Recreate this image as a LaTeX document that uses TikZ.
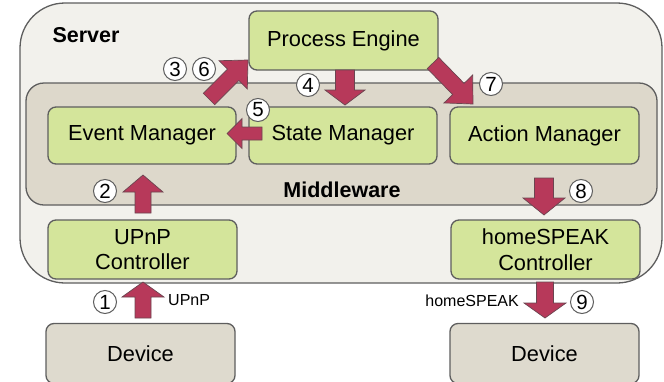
\documentclass[tikz,border=0pt]{standalone}
\usepackage{fontspec}
\setmainfont{Liberation Sans}
\usetikzlibrary{calc}
\definecolor{srvfill}{HTML}{F2F1EC}
\definecolor{mwfill}{HTML}{DDD8CB}
\definecolor{grn}{HTML}{D4E59B}
\definecolor{devfill}{HTML}{DEDACE}
\definecolor{edgegray}{HTML}{5E5E5E}
\definecolor{arrfill}{HTML}{B7395A}
\definecolor{arredge}{HTML}{6B4550}
% block arrow: #1 from, #2 to, #3 half shaft, #4 half head, #5 head length
\newcommand\blockarr[5]{%
  \coordinate (ba-c) at ($(#2)!#5!(#1)$);
  \draw[blockarrow] ($(#1)!#3!90:(#2)$) -- ($(ba-c)!#3!-90:(#1)$) -- ($(ba-c)!#4!-90:(#1)$) -- (#2)
    -- ($(ba-c)!#4!90:(#1)$) -- ($(ba-c)!#3!90:(#1)$) -- ($(#1)!#3!-90:(#2)$) -- cycle;}
\begin{document}
\begin{tikzpicture}[x=1pt,y=-1pt,
  server/.style={draw=edgegray, line width=1.3pt, fill=srvfill, rounded corners=45pt},
  mware/.style={draw=edgegray, line width=1.3pt, fill=mwfill, rounded corners=18pt},
  comp/.style={draw=edgegray, line width=1.3pt, fill=grn, rounded corners=8pt,
    minimum width=188pt, minimum height=58pt, inner sep=0pt, align=center,
    font=\fontsize{21.8}{25.5}\selectfont},
  device/.style={comp, fill=devfill, minimum height=60pt},
  blockarrow/.style={fill=arrfill, draw=arredge, line width=0.7pt, line join=miter},
  num/.style={circle, draw=edgegray, line width=1pt, fill=white, inner sep=0pt,
    minimum size=23pt, font=\fontsize{20.5}{20.5}\selectfont},
  title/.style={font=\bfseries\fontsize{21.5}{25}\selectfont},
  proto/.style={font=\fontsize{16}{18}\selectfont, inner sep=0pt}]
\useasboundingbox (0,0) rectangle (664,381);
% containers
\draw[server] (20,3) rectangle (662,283);
\draw[mware] (26,83) rectangle (657,205);
\node[title, anchor=west] (srvlbl) at (49,35) {Server};
\node[title] (mwlbl) at (342,190) {Middleware};
% components
\node[comp, minimum height=59pt, minimum width=189pt] (pe) at (343.5,40.5) {Process Engine};
\node[comp, minimum height=57pt] (em) at (142,135.5) {Event Manager};
\node[comp, minimum height=57pt] (sm) at (343,135.5) {State Manager};
\node[comp, minimum height=57pt, minimum width=189pt] (am) at (544.5,135.5) {Action Manager};
\node[comp, minimum height=59pt, minimum width=189pt] (upnp) at (142.5,249.5) {UPnP\\Controller};
\node[comp, minimum height=59pt, minimum width=189pt] (hs) at (545.5,249.5) {homeSPEAK\\Controller};
\node[device, minimum width=189pt] (dev1) at (140.5,353.5) {Device};
\node[device, minimum width=189pt] (dev2) at (544.5,353.5) {Device};
% arrow end points
\coordinate (a1s) at (143,318); \coordinate (a1e) at (143,282);
\coordinate (a2s) at (143,213); \coordinate (a2e) at (143,175);
\coordinate (a3s) at (209,99);  \coordinate (a3e) at (248,60);
\coordinate (a4s) at (345,70);  \coordinate (a4e) at (345,105);
\coordinate (a5s) at (262,133.5); \coordinate (a5e) at (227,133.5);
\coordinate (a7s) at (433,63);  \coordinate (a7e) at (473,104);
\coordinate (a8s) at (544,178); \coordinate (a8e) at (544,215);
\coordinate (a9s) at (545,282); \coordinate (a9e) at (545,318);
% block arrows
\blockarr{a1s}{a1e}{8pt}{21pt}{15pt}
\blockarr{a2s}{a2e}{8pt}{20pt}{17pt}
\blockarr{a3s}{a3e}{8pt}{20pt}{21pt}
\blockarr{a4s}{a4e}{9.5pt}{20pt}{15pt}
\blockarr{a5s}{a5e}{6.5pt}{15pt}{15pt}
\blockarr{a7s}{a7e}{8pt}{20pt}{21pt}
\blockarr{a8s}{a8e}{9.5pt}{21pt}{17pt}
\blockarr{a9s}{a9e}{8.5pt}{21pt}{15pt}
% protocol labels
\node[proto, anchor=west] (lupnp) at (168,300) {UPnP};
\node[proto, anchor=east] (lhs) at (519,301) {homeSPEAK};
% step numbers
\node[num] (n1) at (105,302) {1};
\node[num] (n2) at (105,191) {2};
\node[num] (n3) at (175,69) {3};
\node[num] (n6) at (204,69) {6};
\node[num] (n4) at (308,85) {4};
\node[num] (n5) at (258,110) {5};
\node[num] (n7) at (491,84) {7};
\node[num] (n8) at (581,191) {8};
\node[num] (n9) at (582,302) {9};
\end{tikzpicture}
\end{document}
